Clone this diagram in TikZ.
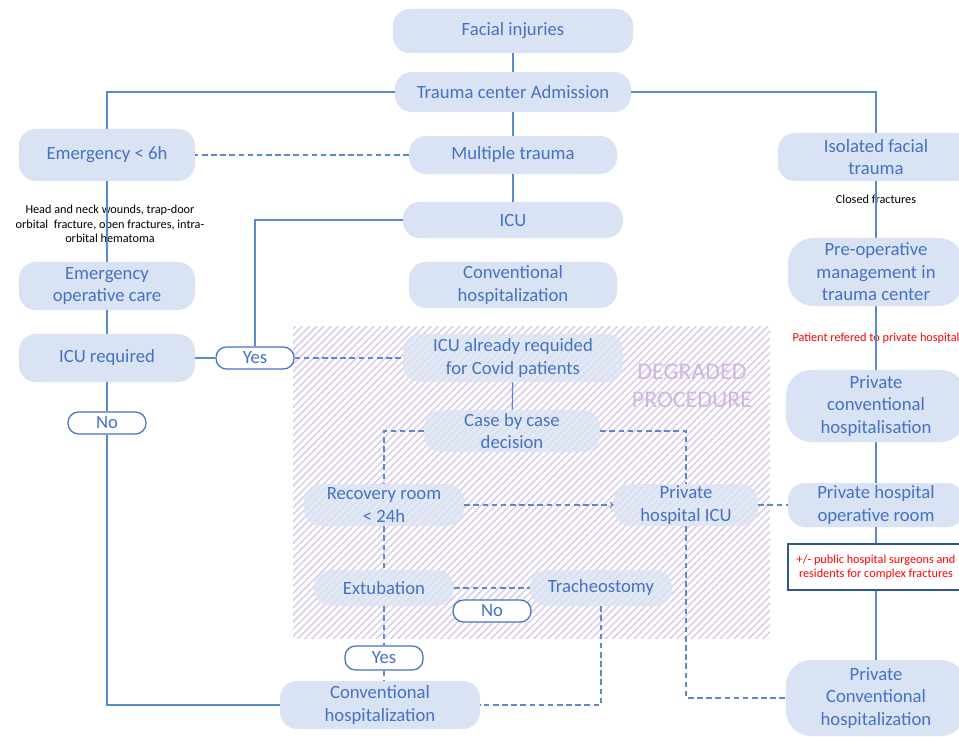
\documentclass[tikz,border=0pt]{standalone}
\usepackage{fontspec}
\setmainfont{Carlito}
\usetikzlibrary{positioning,patterns.meta}
\definecolor{stageblue}{RGB}{68,114,196}
\definecolor{stagefill}{RGB}{218,227,243}
\definecolor{linkblue}{RGB}{91,137,205}
\definecolor{hatchpurple}{RGB}{218,204,230}
\definecolor{degraded}{RGB}{208,182,224}
\definecolor{boxblue}{RGB}{47,85,151}
\tikzstyle{stage} = [rectangle, rounded corners=12pt, fill=stagefill, text=stageblue, align=center, inner sep=1pt, font=\fontsize{13.3}{16}\selectfont]
\tikzstyle{tallstage} = [stage, rounded corners=18pt]
\tikzstyle{covid} = [stage, fill opacity=0.8, text opacity=1]
\tikzstyle{answer} = [rectangle, rounded corners=7.5pt, draw=stageblue, line width=0.9pt, fill=white, text=stageblue, minimum width=1.95cm, minimum height=0.55cm, inner sep=0pt, font=\fontsize{13.3}{16}\selectfont]
\tikzstyle{remark} = [align=center, inner sep=1pt, font=\fontsize{8.7}{10.3}\selectfont]
\tikzstyle{link} = [draw=linkblue, line width=0.9pt]
\tikzstyle{dlink} = [link, dash pattern=on 4pt off 2.5pt]
\tikzstyle{arrow} = [dlink, ->, >=to]

\begin{document}
\begin{tikzpicture}[x=0.025cm, y=-0.025cm]
\useasboundingbox (0,0) rectangle (959,736);
% degraded procedure area
\fill [pattern={Lines[angle=45,distance=3.6pt,line width=1.1pt]}, pattern color=hatchpurple] (293,326) rectangle (770,638);
\node (degradedlabel) [align=center, text=degraded, font=\fontsize{17}{20}\selectfont] at (692,386) {DEGRADED\\PROCEDURE};

% public trauma center
\node (facial) [stage, minimum width=6cm, minimum height=1.1cm] at (513,31) {Facial injuries};
\node (admission) [stage, minimum width=5.9cm, minimum height=1cm] at (513,92) {Trauma center Admission};
\node (emergency) [stage, minimum width=4.4cm, minimum height=1.3cm] at (107,155) {Emergency < 6h};
\node (multiple) [stage, minimum width=5.2cm, minimum height=0.95cm] at (513,155) {Multiple trauma};
\node (icu) [stage, minimum width=5.5cm, minimum height=0.9cm] at (513,220) {ICU};
\node (conv) [stage, minimum width=5.2cm, minimum height=1.15cm] at (513,285) {Conventional\\hospitalization};
\node (emergop) [stage, minimum width=4.4cm, minimum height=1.2cm] at (107,286) {Emergency\\operative care};
\node (icureq) [stage, minimum width=4.4cm, minimum height=1.2cm] at (107,358) {ICU required};
\node (yesleft) [answer] at (255,358) {Yes};
\node (noleft) [answer] at (107,423) {No};
\node (woundsnote) [remark] at (110,224) {Head and neck wounds, trap-door\\orbital\ \ fracture, open fractures, intra-\\orbital hematoma};

% degraded procedure
\node (icucovid) [covid, minimum width=5.5cm, minimum height=1.2cm] at (513,358) {ICU already requided\\for Covid patients};
\node (casebycase) [covid, minimum width=4.4cm, minimum height=1.05cm] at (512,431) {Case by case\\decision};
\node (recovery) [covid, minimum width=4cm, minimum height=1.05cm] at (384,505) {Recovery room\\< 24h};
\node (privicu) [covid, minimum width=3.6cm, minimum height=1.05cm] at (686,505) {Private\\hospital ICU};
\node (extubation) [covid, minimum width=3.5cm, minimum height=0.9cm] at (384,588) {Extubation};
\node (tracheo) [covid, minimum width=3.55cm, minimum height=0.9cm] at (601,588) {Tracheostomy};
\node (nocenter) [answer] at (492,611) {No};
\node (yesbottom) [answer, minimum height=0.6cm] at (384,658) {Yes};
\node (convbottom) [stage, minimum width=5cm, minimum height=1.2cm] at (380,705) {Conventional\\hospitalization};

% isolated facial trauma
\node (isolated) [stage, minimum width=4.9cm, minimum height=1.2cm] at (876,157) {Isolated facial\\trauma};
\node (closednote) [remark] at (876,199) {Closed fractures};
\node (preop) [tallstage, minimum width=4.4cm, minimum height=1.7cm] at (876,272) {Pre-operative\\management in\\trauma center};
\node (referednote) [remark, text=red] at (876,338) {Patient refered to private hospital};
\node (privconv) [tallstage, minimum width=4.5cm, minimum height=1.8cm] at (876,406) {Private\\conventional\\hospitalisation};
\node (privop) [stage, minimum width=4.4cm, minimum height=1.1cm] at (876,505) {Private hospital\\operative room};
\node (surgeons) [remark, text=red, draw=boxblue, line width=0.9pt, fill=white, minimum width=4.4cm, minimum height=1.15cm] at (876,567) {+/- public hospital surgeons and\\residents for complex fractures};
\node (privconvbottom) [tallstage, minimum width=4.5cm, minimum height=1.9cm] at (876,698) {Private\\Conventional\\hospitalization};

% connectors
\draw [link] (facial) -- (admission);
\draw [link] (admission.west) -| (emergency.north);
\draw [link] (admission.east) -| (isolated.north);
\draw [link] (admission) -- (multiple);
\draw [link] (multiple) -- (icu);
\draw [dlink] (multiple.west) -- (emergency.east);
\draw [link] (emergency) -- (emergop);
\draw [link] (emergop) -- (icureq);
\draw [link] (icureq) -- (noleft);
\draw [link] (noleft.south) |- (convbottom.west);
\draw [link] (icureq.east) -- (yesleft.west);
\draw [link] (icu.west) -| (yesleft.north);
\draw [dlink] (yesleft.east) -- (icucovid.west);
\draw [link] (icucovid) -- (casebycase);
\draw [dlink] (casebycase.west) -| (recovery.north);
\draw [dlink] (casebycase.east) -| (privicu.north);
\draw [arrow] (recovery.east) -- (privicu.west);
\draw [dlink] (privicu.east) -- (privop.west);
\draw [dlink] (privicu.south) |- (privconvbottom.west);
\draw [dlink] (recovery) -- (extubation);
\draw [dlink] (extubation.east) -- (tracheo.west);
\draw [dlink] (extubation) -- (yesbottom);
\draw [dlink] (yesbottom.south) -- (yesbottom.south |- convbottom.north);
\draw [dlink] (tracheo.south) |- (convbottom.east);
\draw [link] (isolated) -- (preop);
\draw [link] (preop) -- (privconv);
\draw [link] (privconv) -- (privop);
\draw [link] (privop) -- (surgeons);
\draw [link] (surgeons) -- (privconvbottom);
\end{tikzpicture}
\end{document}
